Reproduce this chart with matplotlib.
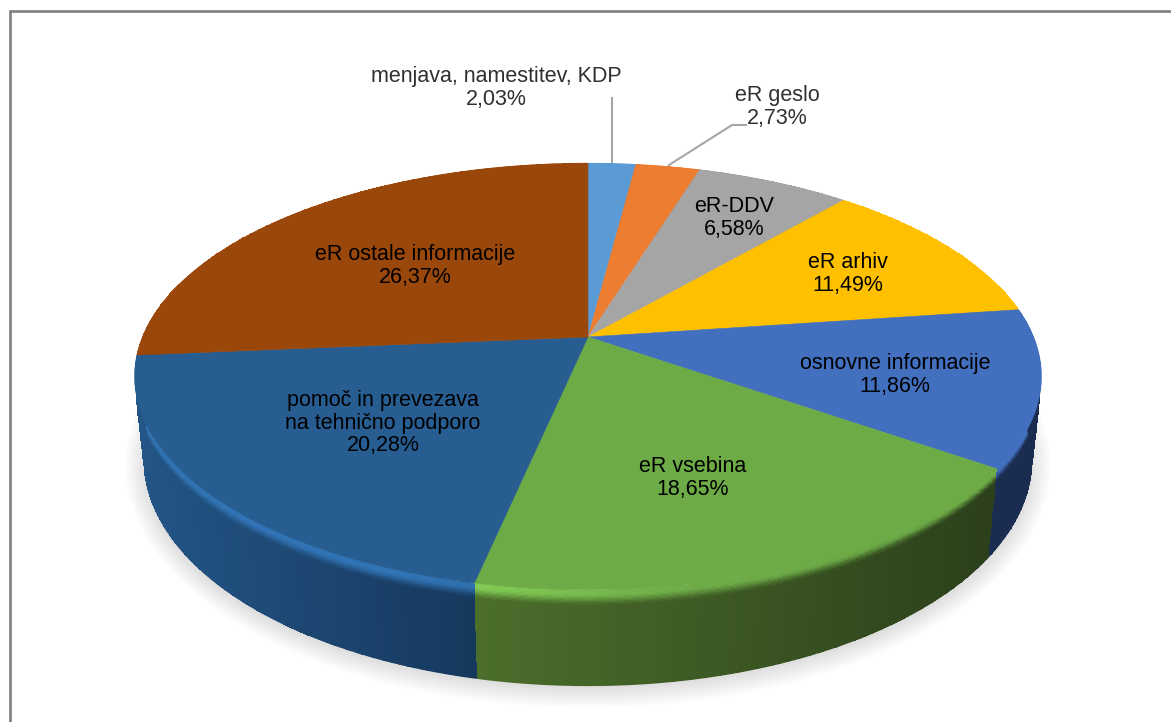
import numpy as np
import matplotlib
matplotlib.use("Agg")
import matplotlib.pyplot as plt
from matplotlib.transforms import Transform
from matplotlib.path import Path
from matplotlib.patches import Ellipse
from matplotlib.colors import to_rgb

plt.rcParams['font.family'] = ['Liberation Sans', 'DejaVu Sans']

categories = ["menjava, namestitev, KDP", "eR geslo", "eR-DDV", "eR arhiv",
              "osnovne informacije", "eR vsebina",
              "pomoč in prevezava\nna tehnično podporo", "eR ostale informacije"]
values = [2.03, 2.73, 6.58, 11.49, 11.86, 18.65, 20.28, 26.37]
colors = ["#5b9bd5", "#ed7d31", "#a5a5a5", "#ffc000", "#4270bf", "#6dab47", "#275d91", "#9a470c"]
wall_left = ["#3d6d99", "#9e5320", "#6e6e6e", "#aa8000", "#1a2d50", "#4c6e2b", "#235586", "#683008"]
wall_right = ["#3d6d99", "#9e5320", "#6e6e6e", "#aa8000", "#1a2d50", "#2b401b", "#16385d", "#683008"]
label_pos = [(496, 88), (777, 107), (734, 218), (848, 274), (895, 375), (693, 478), (383, 423), (415, 266)]
label_color = ["#303030", "#303030", "#000000", "#000000", "#000000", "#000000", "#000000", "#000000"]
wall_order = [7, 0, 1, 2, 3, 4, 6, 5]


class Persp(Transform):
    input_dims = output_dims = 2
    is_separable = False
    has_inverse = False

    def __init__(self, cx, cy, a, b, k):
        super().__init__()
        self.p = (cx, cy, a, b, k)

    def transform_non_affine(self, v):
        cx, cy, a, b, k = self.p
        v = np.asarray(v, float)
        w = 1 + k * v[:, 1]
        return np.column_stack([cx + b * v[:, 0] / w, cy - a * v[:, 1] / w])

    def transform_path_non_affine(self, path):
        pts = []
        for bez, code in path.iter_bezier():
            if code == Path.MOVETO:
                pts.append(bez.control_points[-1])
            else:
                pts.extend(bez(np.linspace(0, 1, 30)))
        return Path(self.transform_non_affine(np.array(pts)), closed=True)


TOP = (588, 337, 206, 445.6, 0.185)
BOT = (588, 418, 218, 436, 0.185)
top_T, bot_T = Persp(*TOP), Persp(*BOT)

fig = plt.figure(figsize=(11.71, 7.22), dpi=100)
ax = fig.add_axes([0, 0, 1, 1])

# soft shadow
for g in np.linspace(20, 0, 16):
    ax.add_patch(Ellipse((588, 466), 2 * (443 + g), 2 * (222 + g), fc="black", ec="none", alpha=0.009, zorder=1))

# walls
edges = np.concatenate([[0], np.cumsum(values)]) / sum(values) * 360
tr = 0.17
ts = np.concatenate([np.linspace(0, tr, 14), np.linspace(tr, 1, 6)[1:]])
for n, i in enumerate(wall_order):
    s, e = edges[i], edges[i + 1]
    th = np.radians(np.linspace(s, e, int((e - s) * 3) + 2))
    unit = np.column_stack([np.sin(th), np.cos(th)])
    p0, p1 = top_T.transform_non_affine(unit), bot_T.transform_non_affine(unit)
    X = np.array([p0[:, 0] * (1 - t) + p1[:, 0] * t for t in ts])
    Y = np.array([p0[:, 1] * (1 - t) + p1[:, 1] * t for t in ts])
    xm = 0.5 * (p0[:-1, 0] + p0[1:, 0])
    span = (xm - xm.min()) / max(xm.max() - xm.min(), 1)
    cl, cr, ct = map(lambda c: np.array(to_rgb(c)), (wall_left[i], wall_right[i], colors[i]))
    base = cl[None, :] * (1 - span[:, None]) + cr[None, :] * span[:, None]
    h = np.clip((700 - xm) / 300, 0, 1) * 0.25
    hi = np.clip(ct[None, :] * (1 + h[:, None]), 0, 1)
    tm = 0.5 * (ts[:-1] + ts[1:])
    C = np.zeros((len(tm), len(xm), 3))
    for r, t in enumerate(tm):
        f = np.clip((t - 0.04) / (tr - 0.04), 0, 1)
        f = f * f * (3 - 2 * f)
        C[r] = hi * (1 - f) + base * f
    ax.pcolormesh(X, Y, C, shading="flat", zorder=2 + n * 0.01, antialiased=False)
    # smooth silhouette along the lower rim
    mid = np.column_stack([X[-1], Y[-1]])
    for j in range(0, len(xm), 4):
        seg = mid[j:j + 5]
        ax.plot(seg[:, 0], seg[:, 1], color=base[min(j, len(xm) - 1)], lw=0.9, zorder=2 + n * 0.01,
                solid_capstyle="butt")

# top face
wedges, _ = ax.pie(values, colors=colors, startangle=90, counterclock=False, radius=1,
                   wedgeprops=dict(linewidth=0))
for w, c in zip(wedges, colors):
    w.set_edgecolor(c)
    w.set_linewidth(0.4)
    w.set_transform(top_T + ax.transData)
    w.set_zorder(3)

ax.set_aspect("auto")
ax.set_xlim(0, 1171)
ax.set_ylim(722, 0)
ax.axis("off")

# leaders
ax.plot([612, 612], [98, 162], color="#a6a6a6", lw=1.5, zorder=4)
ax.plot([669, 732, 746], [165, 125, 125], color="#a6a6a6", lw=1.5, zorder=4)

for name, v, (x, y), c in zip(categories, values, label_pos, label_color):
    ax.text(x, y, f"{name}\n{v:.2f}%".replace(".", ","), ha="center", va="center", fontsize=15.5,
            color=c, linespacing=1.12, zorder=5)

# frame: only the left and top edges fall inside the crop
ax.plot([9.5, 9.5, 1171], [722, 11, 11], color="#7f7f7f", lw=1.9, zorder=6, solid_joinstyle="miter",
        solid_capstyle="butt", clip_on=False)
fig.savefig("out.png", dpi=100)
